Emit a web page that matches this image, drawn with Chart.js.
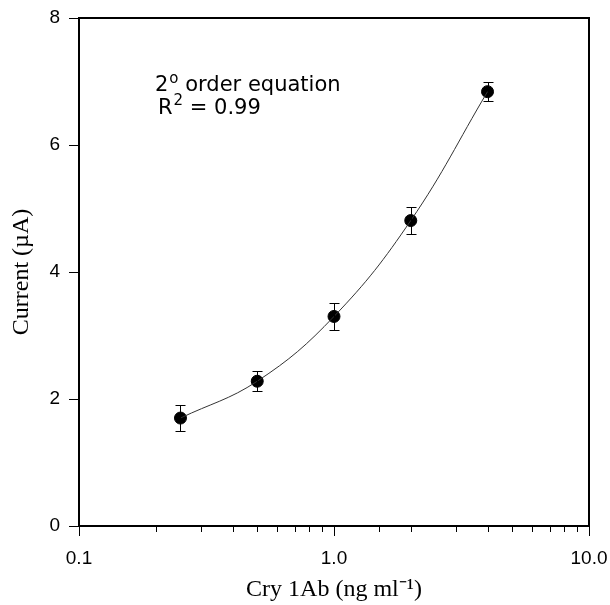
<!DOCTYPE html>
<html>
<head>
<meta charset="utf-8">
<script src="https://cdn.jsdelivr.net/npm/chart.js@4.4.1/dist/chart.umd.min.js"></script>
<style>
  html, body { margin: 0; padding: 0; background: #fff; }
  #wrap { width: 610px; height: 605px; }
</style>
</head>
<body>
<div id="wrap"><canvas id="chart" width="610" height="605"></canvas></div>
<script>
// data
const concentrations = [0.25, 0.5, 1, 2, 4];       // Cry 1Ab, ng/ml
const currents = [1.70, 2.28, 3.30, 4.81, 6.84];   // µA
const errors = [0.20, 0.16, 0.21, 0.21, 0.15];     // ± µA

const xTickValues = [0.1, 1, 10];
const xTickLabels = ['0.1', '1.0', '10.0'];
const yTicks = [0, 2, 4, 6, 8];

const points = concentrations.map((c, i) => ({ x: c, y: currents[i] }));

function isDecade(v) {
    const l = Math.log10(v);
    return Math.abs(l - Math.round(l)) < 1e-9;
}

// frame, minor ticks, error bars and the fit note
const extras = {
    id: 'extras',
    beforeDatasetsDraw(chart) {
        const { ctx, chartArea: a, scales: { x } } = chart;
        ctx.save();
        ctx.strokeStyle = '#000';
        ctx.lineWidth = 2;
        ctx.strokeRect(a.left, a.top, a.right - a.left, a.bottom - a.top);

        // short minor ticks on the log axis
        ctx.lineWidth = 1;
        x.ticks.forEach(t => {
            if (isDecade(t.value)) return;
            const px = Math.round(x.getPixelForValue(t.value)) + 0.5;
            ctx.beginPath();
            ctx.moveTo(px, a.bottom);
            ctx.lineTo(px, a.bottom + 6);
            ctx.stroke();
        });
        ctx.restore();
    },
    afterDatasetsDraw(chart) {
        const { ctx, scales: { x, y } } = chart;
        ctx.save();
        ctx.strokeStyle = '#000';
        ctx.lineWidth = 1;
        concentrations.forEach((c, i) => {
            const px = Math.round(x.getPixelForValue(c)) + 0.5;
            const top = Math.round(y.getPixelForValue(currents[i] + errors[i])) + 0.5;
            const bot = Math.round(y.getPixelForValue(currents[i] - errors[i])) + 0.5;
            ctx.beginPath();
            ctx.moveTo(px, top); ctx.lineTo(px, bot);
            ctx.moveTo(px - 5, top); ctx.lineTo(px + 5, top);
            ctx.moveTo(px - 5, bot); ctx.lineTo(px + 5, bot);
            ctx.stroke();
        });

        // "2º order equation" / "R² = 0.99"
        ctx.fillStyle = '#000';
        ctx.textBaseline = 'alphabetic';
        const big = '21px "DejaVu Sans"';
        const small = '15px "DejaVu Sans"';
        let tx = 155;
        ctx.font = big;
        ctx.fillText('2', tx, 91);
        tx += ctx.measureText('2').width + 1;
        ctx.font = small;
        ctx.fillText('o', tx, 83);
        tx += ctx.measureText('o').width;
        ctx.font = big;
        ctx.fillText(' order equation', tx, 91);

        tx = 158;
        ctx.fillText('R', tx, 114);
        tx += ctx.measureText('R').width + 1;
        ctx.font = small;
        ctx.fillText('2', tx, 105);
        tx += ctx.measureText('2').width;
        ctx.font = big;
        ctx.fillText(' = 0.99', tx, 114);
        ctx.restore();
    }
};

new Chart(document.getElementById('chart'), {
    type: 'scatter',
    data: {
        datasets: [
            {
                type: 'line',
                label: 'fit',
                data: points,
                borderColor: '#333',
                borderWidth: 1,
                pointRadius: 0,
                fill: false,
                tension: 0.4
            },
            {
                label: 'Cry 1Ab',
                data: points,
                pointRadius: 6,
                pointHoverRadius: 6,
                backgroundColor: '#000',
                borderColor: '#000'
            }
        ]
    },
    options: {
        responsive: false,
        animation: false,
        events: [],
        layout: { padding: { top: 18, right: 21, left: 0, bottom: 0 } },
        plugins: { legend: { display: false }, tooltip: { enabled: false } },
        scales: {
            x: {
                type: 'logarithmic',
                min: 0.1,
                max: 10,
                afterFit: s => { s.height = 79; s.paddingLeft = 0; s.paddingRight = 0; },
                border: { display: false },
                grid: {
                    drawOnChartArea: false,
                    tickLength: 10,
                    tickColor: c => (c.tick && isDecade(c.tick.value)) ? '#000' : 'rgba(0,0,0,0)'
                },
                ticks: {
                    autoSkip: false,
                    maxRotation: 0,
                    padding: 11,
                    color: '#000',
                    font: { family: '"Liberation Sans", Arial, sans-serif', size: 19 },
                    callback: v => {
                        const k = xTickValues.findIndex(t => Math.abs(t - v) < 1e-9);
                        return k >= 0 ? xTickLabels[k] : '';
                    }
                },
                title: {
                    display: true,
                    text: 'Cry 1Ab (ng ml⁻¹)',
                    color: '#000',
                    padding: { top: 0, bottom: 1 },
                    font: { family: '"Liberation Serif", "Times New Roman", serif', size: 24 }
                }
            },
            y: {
                min: 0,
                max: 8,
                afterFit: s => { s.width = 79; s.paddingTop = 0; s.paddingBottom = 0; },
                afterBuildTicks: s => { s.ticks = yTicks.map(v => ({ value: v })); },
                border: { display: false },
                grid: { drawOnChartArea: false, tickLength: 10, tickColor: '#000' },
                ticks: {
                    padding: 9,
                    color: '#000',
                    font: { family: '"Liberation Sans", Arial, sans-serif', size: 19 }
                },
                title: {
                    display: true,
                    text: 'Current (µA)',
                    color: '#000',
                    padding: { top: 7, bottom: 0 },
                    font: { family: '"Liberation Serif", "Times New Roman", serif', size: 24 }
                }
            }
        }
    },
    plugins: [extras]
});
</script>
</body>
</html>
